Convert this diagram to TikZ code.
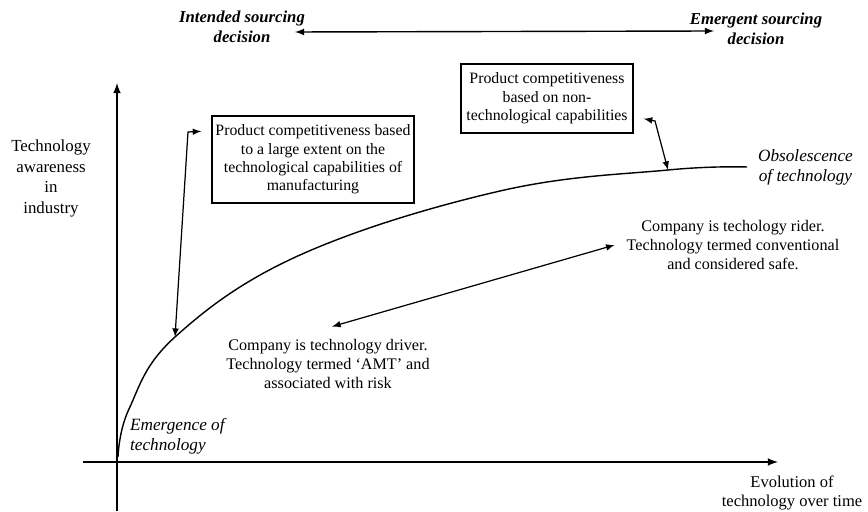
\documentclass[tikz,border=0pt]{standalone}
\usepackage{fontspec}
\setmainfont{Liberation Serif}
\usepackage{tikz}
\usetikzlibrary{positioning}
\usetikzlibrary{arrows}

\begin{document}
\begin{tikzpicture}[>=latex,node distance=2cm,
   txt/.style={align=center,inner sep=1pt,font=\fontsize{9.2}{10.6}\selectfont},
   ital/.style={align=center,inner sep=1pt,font=\fontsize{9.8}{11.4}\selectfont\itshape},
   axlbl/.style={align=center,inner sep=1pt,font=\fontsize{9.6}{11.8}\selectfont},
   capbox/.style={draw,line width=0.8pt,align=center,inner sep=2pt,
                  font=\fontsize{9}{10.4}\selectfont},
   axis/.style={->,line width=1pt},
   link/.style={<->,line width=0.7pt}]
   \useasboundingbox (0,0) rectangle (17.36,10.22);

   % axes
   \coordinate (y_bot) at (2.34,0);
   \coordinate (y_top) at (2.34,8.56);
   \coordinate (x_lft) at (1.66,0.98);
   \coordinate (x_rgt) at (15.56,0.98);
   \draw[axis] (y_bot) -- (y_top);
   \draw[axis] (x_lft) -- (x_rgt);

   \node[axlbl] (aware) at (1.02,6.65) {Technology\\awareness\\in\\industry};
   \node[axlbl,font=\fontsize{9.4}{11.2}\selectfont] (evol) at (15.84,0.36)
        {Evolution of\\technology over time};

   % sourcing decision
   \node[ital,font=\fontsize{9.5}{11.4}\selectfont\itshape\bfseries] (intend) at (4.84,9.68)
        {Intended sourcing\\decision};
   \node[ital,font=\fontsize{9.5}{11.4}\selectfont\itshape\bfseries] (emerg) at (15.12,9.64)
        {Emergent sourcing\\decision};
   \coordinate (src_l) at (5.9,9.58);
   \coordinate (src_r) at (14.28,9.6);
   \draw[<->,line width=0.8pt] (src_l) -- (src_r);

   % technology curve
   \coordinate (c_beg) at (2.36,1.08);
   \coordinate (c_1) at (3.50,3.48);
   \coordinate (c_2) at (13.36,6.82);
   \coordinate (c_end) at (14.94,6.88);
   \draw[line width=0.8pt] plot[smooth,tension=0.65] coordinates {(c_beg) (2.58,2.04)
        (c_1) (6.00,5.12) (10.00,6.40) (c_2) (c_end)};

   \node[ital,align=left] (emerge) [right=0.2cm of c_beg, anchor=west, yshift=0.42cm]
        {Emergence of\\technology};
   \node[ital] (obs) [right=0.18cm of c_end] {Obsolescence\\of technology};

   % capability boxes
   \node[capbox,minimum width=4cm,minimum height=1.74cm] (box_1) at (6.26,7.03)
        {Product competitiveness based\\to a large extent on the\\technological capabilities of\\manufacturing};
   \node[capbox,minimum width=3.44cm,minimum height=1.38cm] (box_2) at (10.94,8.25)
        {Product competitiveness\\based on non-\\technological capabilities};

   \draw[link] (c_1) -- (3.76,7.58) -- ([xshift=-0.2cm,yshift=-0.32cm]box_1.north west);
   \draw[link] (c_2) -- (13.1,7.8) -- ([xshift=0.2cm,yshift=0.3cm]box_2.south east);

   % driver / rider
   \node[txt] (drv) at (6.56,2.94)
        {Company is technology driver.\\Technology termed `AMT' and\\associated with risk};
   \node[txt] (rider) at (14.66,5.32)
        {Company is techology rider.\\Technology termed conventional\\and considered safe.};
   \draw[link] ([xshift=0.08cm,yshift=0.22cm]drv.north) -- ([xshift=-0.2cm]rider.west);
\end{tikzpicture}
\end{document}
